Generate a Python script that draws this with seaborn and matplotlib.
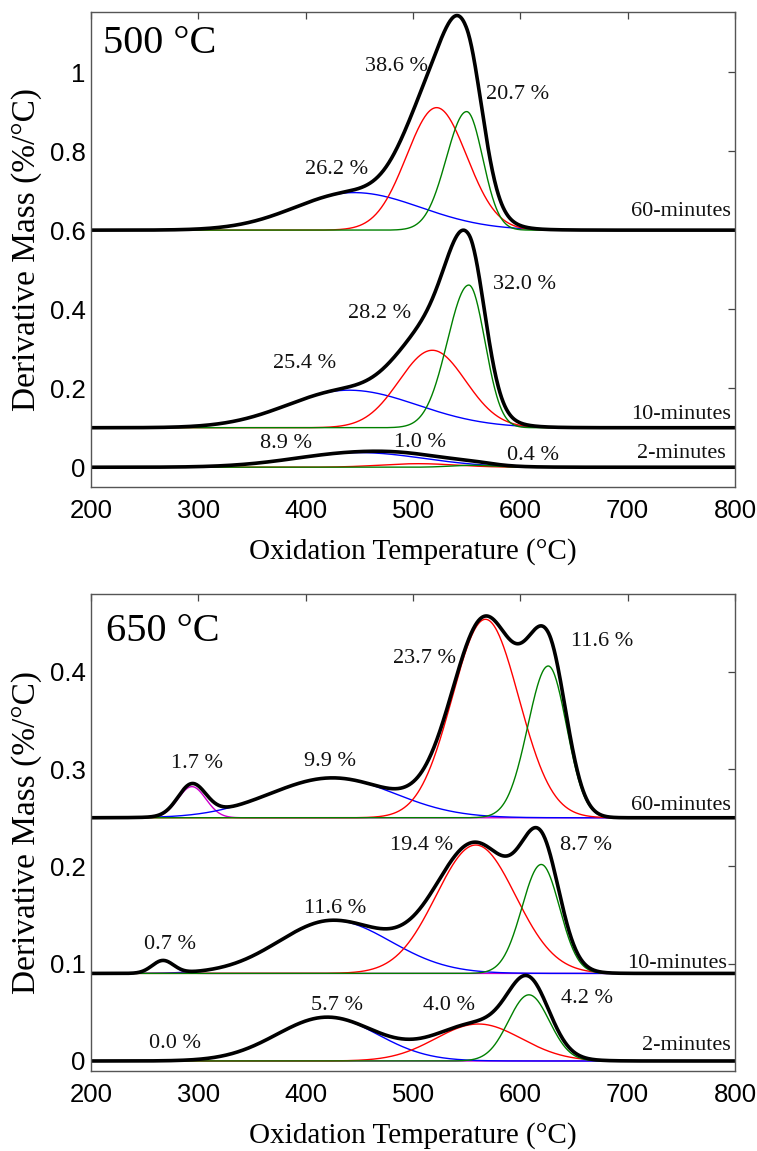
import numpy as np
import pandas as pd
import matplotlib
matplotlib.use("Agg")
import matplotlib.pyplot as plt
from matplotlib.ticker import FuncFormatter
import seaborn as sns

sns.set_theme(style="white")
plt.rcParams['font.family'] = ['Liberation Serif', 'DejaVu Serif']
plt.rcParams['text.color'] = 'black'
plt.rcParams['axes.labelcolor'] = 'black'

# ---------------- data ----------------
temperature = np.linspace(200, 800, 1201)

samples = ["60-minutes", "10-minutes", "2-minutes"]

# 500 °C panel: components blue, red, green (peak centre °C, height, left/right width °C)
colors_500 = ["#0000ff", "#ff0000", "#008000"]
offset_500 = [0.6, 0.1, 0.0]
center_500 = [[445, 522, 550], [440, 518, 552], [450, 505, 555]]
height_500 = [[0.095, 0.31, 0.30], [0.095, 0.196, 0.361], [0.037, 0.009, 0.005]]
wleft_500 = [[55, 28, 19], [57, 31, 20], [60, 35, 20]]
wright_500 = [[62, 28, 15], [64, 31, 15], [60, 35, 20]]
pct_500 = [["26.2 %", "38.6 %", "20.7 %"],
           ["25.4 %", "28.2 %", "32.0 %"],
           ["8.9 %", "1.0 %", "0.4 %"]]

# 650 °C panel: components magenta, blue, red, green
colors_650 = ["#cc00cc", "#0000ff", "#ff0000", "#008000"]
offset_650 = [0.25, 0.09, 0.0]
center_650 = [[294, 425, 567.5, 626], [267, 425, 558.5, 619.5], [300, 420, 561, 608]]
height_650 = [[0.032, 0.041, 0.204, 0.156], [0.013, 0.0545, 0.132, 0.112], [0.0, 0.045, 0.038, 0.068]]
wleft_650 = [[13, 58, 31, 19], [10, 50, 37, 18], [15, 47, 40, 19]]
wright_650 = [[13, 58, 31, 17], [10, 54, 37, 17], [15, 47, 40, 19]]
pct_650 = [["1.7 %", "9.9 %", "23.7 %", "11.6 %"],
           ["0.7 %", "11.6 %", "19.4 %", "8.7 %"],
           ["0.0 %", "5.7 %", "4.0 %", "4.2 %"]]

titles = ["500 °C", "650 °C"]
xticks = [200, 300, 400, 500, 600, 700, 800]
yticks_500 = [0, 0.2, 0.4, 0.6, 0.8, 1.0]
yticks_650 = [0, 0.1, 0.2, 0.3, 0.4]


def peak(c, h, wl, wr):
    w = np.where(temperature < c, wl, wr)
    return h * np.exp(-0.5 * ((temperature - c) / w) ** 2)


# ---------------- layout ----------------
pct_pos_500 = [[(428.6, 0.754), (484.7, 1.015), (597, 0.944)],
               [(399, 0.2625), (469, 0.389), (603.5, 0.463)],
               [(382, 0.060), (506.5, 0.0625), (611.4, 0.0304)]]
pct_pos_650 = [[(298.4, 0.306), (422.7, 0.3076), (511, 0.414), (676, 0.431)],
               [(273.6, 0.120), (427, 0.157), (507.8, 0.221), (661.6, 0.222)],
               [(278, 0.0182), (429.6, 0.0569), (534, 0.0569), (662.5, 0.0644)]]
name_pos_500 = [(796, 0.647), (796, 0.133), (791, 0.0347)]
name_pos_650 = [(796, 0.263), (792.6, 0.1004), (796, 0.0154)]
title_pos = [(264, 1.073), (266.7, 0.441)]

W, H = 757, 1151
fig = plt.figure(figsize=(W / 100, H / 100), dpi=100)
ax1 = fig.add_axes([91 / W, 1 - 487 / H, 644 / W, 475 / H])
ax2 = fig.add_axes([91 / W, 1 - 1071 / H, 644 / W, 477 / H])

panels = [
    (ax1, colors_500, offset_500, center_500, height_500, wleft_500, wright_500, pct_500,
     pct_pos_500, name_pos_500, (-0.05, 1.152), yticks_500),
    (ax2, colors_650, offset_650, center_650, height_650, wleft_650, wright_650, pct_650,
     pct_pos_650, name_pos_650, (-0.0103, 0.48), yticks_650),
]

for pi, (ax, cols, offs, cen, hts, wl, wr, pcts, ppos, npos, ylim, yt) in enumerate(panels):
    for si in range(3):
        comps = [peak(cen[si][k], hts[si][k], wl[si][k], wr[si][k]) for k in range(len(cols))]
        for k in range(len(cols)):
            sns.lineplot(x=temperature, y=comps[k] + offs[si], ax=ax, color=cols[k],
                         linewidth=1.0, estimator=None, legend=False)
        total = np.sum(comps, axis=0) + offs[si]
        sns.lineplot(x=temperature, y=total, ax=ax, color="black",
                     linewidth=2.6, estimator=None, legend=False)
        for txt, (tx, ty) in zip(pcts[si], ppos[si]):
            ax.text(tx, ty, txt, ha="center", va="center", fontsize=16, color="#111111")
        nx, ny = npos[si]
        ax.text(nx, ny, samples[si], ha="right", va="center", fontsize=16, color="#111111")
    tx, ty = title_pos[pi]
    ax.text(tx, ty, titles[pi], ha="center", va="center", fontsize=29, color="black")

    ax.set_xlim(200, 800)
    ax.set_ylim(*ylim)
    ax.set_xticks(xticks)
    ax.set_yticks(yt)
    ax.yaxis.set_major_formatter(FuncFormatter(lambda v, p: f"{v:g}"))
    ax.tick_params(direction="in", top=True, right=True, length=5, width=0.9,
                   color="#444444", labelsize=18.5, labelcolor="black")
    ax.tick_params(axis="x", pad=9)
    ax.tick_params(axis="y", pad=4)
    for lbl in ax.get_xticklabels() + ax.get_yticklabels():
        lbl.set_fontfamily("Liberation Sans")
    for sp in ax.spines.values():
        sp.set_color("#555555")
        sp.set_linewidth(1.0)
    ax.set_xlabel("Oxidation Temperature (°C)", fontsize=21, color="black")
    ax.set_ylabel("Derivative Mass (%/°C)", fontsize=24, color="black")
    ax.xaxis.set_label_coords(0.5, -0.135)
    ax.xaxis.label.set_va("center")
    ax.yaxis.set_label_coords(-0.10, 0.5)
    ax.yaxis.label.set_va("center")

fig.savefig("out.png", dpi=100)
